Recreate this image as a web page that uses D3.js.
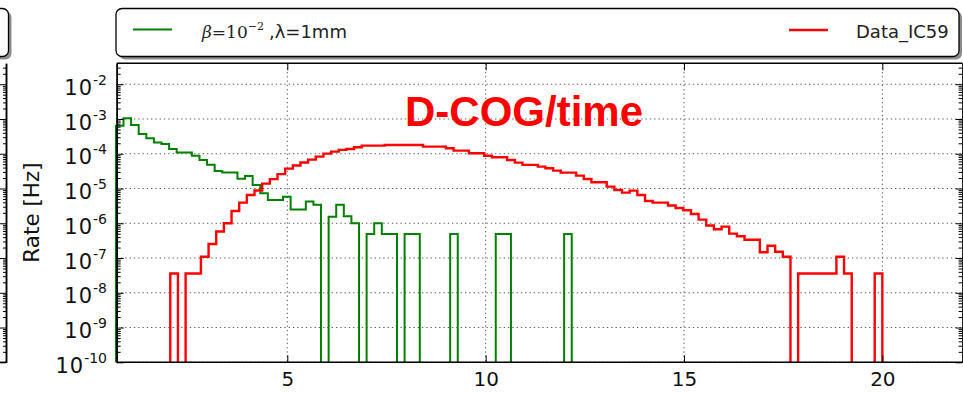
<!DOCTYPE html>
<html><head><meta charset="utf-8">
<script src="https://cdn.jsdelivr.net/npm/d3@7"></script>
<style>body{margin:0;background:#fff} svg{display:block}</style>
</head><body>
<svg id="c" width="963" height="393"></svg>
<script>
// ---------- data ----------
const greenBinStart = 0.68, greenBinWidth = 0.1915;
const greenRate = [6.4e-4,1.05e-3,6.7e-4,3.7e-4,2.8e-4,2.1e-4,1.9e-4,1.37e-4,1.08e-4,1.08e-4,
  8.8e-5,6.6e-5,4.8e-5,3.2e-5,2.9e-5,2.9e-5,1.9e-5,2.3e-5,1.26e-5,7.3e-6,
  4.7e-6,4.7e-6,5.8e-6,2.5e-6,2.5e-6,4.2e-6,3.4e-6,0,1.55e-6,3.4e-6,
  1.6e-6,1.0e-6,0,4.9e-7,1.0e-6,4.9e-7,4.9e-7,0,4.9e-7,4.9e-7,
  0,0,0,0,4.9e-7,0,0,0,0,0,
  4.9e-7,4.9e-7,0,0,0,0,0,0,0,4.9e-7,
  0,0,0];
const redBinStart = 0.70, redBinWidth = 0.193;
const redRate = [0,0,0,0,0,0,0,3.6e-8,0,3.6e-8,
  3.6e-8,1.09e-7,2.54e-7,5.8e-7,1.0e-6,2.26e-6,3.92e-6,6.5e-6,8.8e-6,1.38e-5,
  1.86e-5,2.59e-5,3.72e-5,4.6e-5,5.62e-5,6.76e-5,8.26e-5,1.01e-4,1.15e-4,1.29e-4,
  1.37e-4,1.54e-4,1.71e-4,1.71e-4,1.71e-4,1.79e-4,1.79e-4,1.79e-4,1.79e-4,1.79e-4,
  1.60e-4,1.60e-4,1.60e-4,1.44e-4,1.23e-4,1.23e-4,1.03e-4,1.03e-4,8.8e-5,7.9e-5,
  7.9e-5,6.64e-5,5.55e-5,4.77e-5,4.77e-5,4.26e-5,3.83e-5,3.27e-5,2.86e-5,2.86e-5,
  2.34e-5,1.88e-5,1.51e-5,1.51e-5,1.13e-5,9.08e-6,7.6e-6,8.67e-6,6.51e-6,4.39e-6,
  3.92e-6,3.92e-6,3.25e-6,2.75e-6,2.37e-6,1.85e-6,1.27e-6,8.65e-7,6.71e-7,7.98e-7,
  5.02e-7,4.23e-7,3.37e-7,3.37e-7,1.47e-7,2.25e-7,1.52e-7,1.09e-7,0,3.6e-8,
  3.6e-8,3.6e-8,3.6e-8,3.6e-8,1.09e-7,3.6e-8,0,0,0,3.6e-8];
const xTicks = [5, 10, 15, 20];
const yExponents = [-10,-9,-8,-7,-6,-5,-4,-3,-2];
const legendGreen = "β=10^-2 ,λ=1mm";
const legendRed = "Data_IC59";
const yTitle = "Rate [Hz]";
const titleText = "D-COG/time";

// ---------- layout ----------
const L = 116.7, R = 962.6, T = 63.3, B = 362.3;
const svg = d3.select("#c");
const x = d3.scaleLinear().domain([0.7, 22]).range([L, 961.7]);
const y = d3.scaleLog().domain([1e-10, 0.04]).range([B, T]);
const yMajor = yExponents.map(e => Math.pow(10, e));
const yMinor = [];
yExponents.forEach(e => { for (let m = 2; m <= 9; m++) { const v = m * Math.pow(10, e); if (v < 0.039) yMinor.push(v); } });

// left partial panel (neighbouring subplot)
svg.append("rect").attr("x", -200+3).attr("y", 8.5+3).attr("width", 208.5).attr("height", 48).attr("rx", 6).attr("fill", "#8c8c8c");
svg.append("rect").attr("x", -200).attr("y", 8.5).attr("width", 208.5).attr("height", 48).attr("rx", 6)
  .attr("fill", "#fff").attr("stroke", "#000").attr("stroke-width", 1.3);
const lp = svg.append("g").attr("transform", "translate(6,0)");
lp.call(d3.axisRight(y).tickValues(yMajor).tickSize(-6).tickSizeOuter(0).tickFormat(""));
lp.append("g").call(d3.axisRight(y).tickValues(yMinor).tickSize(-3).tickSizeOuter(0).tickFormat(""));
lp.selectAll("path.domain").attr("stroke-width", 1.5);
lp.selectAll("line").attr("stroke-width", 1);
svg.append("line").attr("x1", -5).attr("x2", 6).attr("y1", B).attr("y2", B).attr("stroke", "#000").attr("stroke-width", 1.5);

// grid
const grid = svg.append("g").attr("stroke", "#555").attr("stroke-width", 1).attr("stroke-dasharray", "1.3 3");
yMajor.forEach(v => grid.append("line").attr("x1", L).attr("x2", R).attr("y1", y(v)).attr("y2", y(v)));
xTicks.forEach(v => grid.append("line").attr("x1", x(v)).attr("x2", x(v)).attr("y1", T).attr("y2", B));

// histograms
svg.append("clipPath").attr("id", "clip").append("rect").attr("x", L - 2).attr("y", T).attr("width", R - L + 2).attr("height", B - T);
function stepPoints(start, width, vals) {
  const pts = [[start, 0]];
  vals.forEach((v, i) => { pts.push([start + i * width, v]); pts.push([start + (i + 1) * width, v]); });
  pts.push([start + vals.length * width, 0]);
  return pts;
}
const line = d3.line().x(d => x(d[0])).y(d => d[1] > 0 ? y(d[1]) : y(1e-14));
const plot = svg.append("g").attr("clip-path", "url(#clip)");
plot.append("path").attr("d", line(stepPoints(greenBinStart, greenBinWidth, greenRate)))
  .attr("fill", "none").attr("stroke", "#008000").attr("stroke-width", 2).attr("stroke-linejoin", "miter");
plot.append("path").attr("d", line(stepPoints(redBinStart, redBinWidth, redRate)))
  .attr("fill", "none").attr("stroke", "#ff0000").attr("stroke-width", 2.4).attr("stroke-linejoin", "miter");

// axes (ticks inward)
const axB = svg.append("g").attr("transform", `translate(0,${B})`)
  .call(d3.axisBottom(x).tickValues(xTicks).tickSizeInner(-7).tickSizeOuter(0).tickPadding(9.5).tickFormat(d3.format("d")));
const axT = svg.append("g").attr("transform", `translate(0,${T})`)
  .call(d3.axisTop(x).tickValues(xTicks).tickSizeInner(-7).tickSizeOuter(0).tickFormat(""));
axB.select("path.domain").attr("d", `M${L},0H${R}`);
axT.select("path.domain").attr("d", `M${L},0H${R}`);
const axL = svg.append("g").attr("transform", `translate(${L},0)`)
  .call(d3.axisLeft(y).tickValues(yMajor).tickSizeInner(-7).tickSizeOuter(0).tickFormat(""));
const axLm = svg.append("g").attr("transform", `translate(${L},0)`)
  .call(d3.axisLeft(y).tickValues(yMinor).tickSizeInner(-4).tickSizeOuter(0).tickFormat(""));
const axR = svg.append("g").attr("transform", `translate(${R},0)`)
  .call(d3.axisRight(y).tickValues(yMajor).tickSizeInner(-7).tickSizeOuter(0).tickFormat(""));
const axRm = svg.append("g").attr("transform", `translate(${R},0)`)
  .call(d3.axisRight(y).tickValues(yMinor).tickSizeInner(-4).tickSizeOuter(0).tickFormat(""));
[axB, axT, axL, axLm, axR, axRm].forEach(g => {
  g.selectAll("path.domain").attr("stroke", "#000").attr("stroke-width", 1.5);
  g.selectAll(".tick line").attr("stroke", "#000").attr("stroke-width", 1);
});
axB.selectAll("text").attr("font-family", "DejaVu Sans").attr("font-size", "20px").attr("fill", "#111");

// y tick labels 10^n
const yl = svg.append("g").attr("font-family", "DejaVu Sans").attr("fill", "#111");
yExponents.forEach((e, i) => {
  const t = yl.append("text").attr("x", 107).attr("y", y(yMajor[i]) + 10.7).attr("text-anchor", "end");
  t.append("tspan").attr("font-size", "21px").attr("letter-spacing", "1px").text("10");
  t.append("tspan").attr("font-size", "14px").attr("dy", -10).text("-" + Math.abs(e));
});

// y title
svg.append("text").attr("transform", "translate(39,212.5) rotate(-90)").attr("text-anchor", "middle")
  .attr("font-family", "DejaVu Sans").attr("font-size", "21.5px").attr("fill", "#111").text(yTitle);

// big red title
svg.append("text").attr("x", 405).attr("y", 126).attr("font-family", "Liberation Sans, Arial, sans-serif")
  .attr("font-weight", "bold").attr("font-size", "42px").attr("fill", "#ff0000").text(titleText);

// legend
svg.append("rect").attr("x", 116 + 3).attr("y", 8.5 + 3).attr("width", 843).attr("height", 48).attr("rx", 6).attr("fill", "#8c8c8c");
svg.append("rect").attr("x", 116).attr("y", 8.5).attr("width", 843).attr("height", 48).attr("rx", 6)
  .attr("fill", "#fff").attr("stroke", "#000").attr("stroke-width", 1.3);
svg.append("line").attr("x1", 133).attr("x2", 172).attr("y1", 29.5).attr("y2", 29.5).attr("stroke", "#008000").attr("stroke-width", 2);
svg.append("line").attr("x1", 789).attr("x2", 828).attr("y1", 30).attr("y2", 30).attr("stroke", "#ff0000").attr("stroke-width", 2.4);
const lg = svg.append("text").attr("x", 202).attr("y", 37.5).attr("fill", "#222");
const parts = legendGreen.split(/\^|,/); // ["β=10", "-2 ", "λ=1mm"]
lg.append("tspan").attr("font-family", "DejaVu Serif").attr("font-size", "17px").attr("font-style", "italic").text(parts[0].slice(0, 1));
lg.append("tspan").attr("font-family", "DejaVu Serif").attr("font-size", "17px").text(parts[0].slice(1));
lg.append("tspan").attr("font-family", "DejaVu Serif").attr("font-size", "11px").attr("dy", -8).text(parts[1].trim().replace("-", "\u2212"));
lg.append("tspan").attr("font-family", "DejaVu Sans").attr("font-size", "18px").attr("dy", 8).attr("dx", 5).text("," + parts[2]);
svg.append("text").attr("x", 856).attr("y", 37.5).attr("font-family", "DejaVu Sans").attr("font-size", "18px").attr("fill", "#222").text(legendRed);
</script>
</body></html>
